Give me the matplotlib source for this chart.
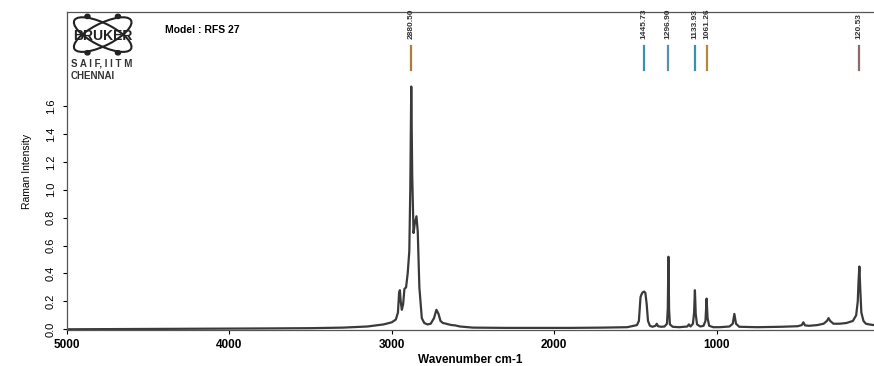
import numpy as np
import matplotlib.pyplot as plt
from matplotlib.patches import Ellipse, Circle

plt.rcParams['font.family'] = ['Liberation Sans', 'DejaVu Sans']

# spectrum points (wavenumber cm-1, intensity)
wavenumber = [5000, 4600, 4200, 3800, 3500, 3300, 3150, 3050, 3000, 2975,
              2962, 2955, 2950, 2945, 2938, 2930, 2922, 2912, 2902, 2892,
              2886, 2880, 2874, 2866, 2858, 2848, 2840, 2830, 2815, 2800,
              2780, 2760, 2740, 2725, 2712, 2700, 2685, 2665, 2650, 2630,
              2610, 2580, 2500, 2300, 2100, 1900, 1700, 1550, 1490, 1478,
              1468, 1462, 1455, 1445, 1438, 1430, 1422, 1410, 1395, 1375,
              1368, 1360, 1340, 1320, 1305, 1300, 1296, 1292, 1287, 1270,
              1230, 1180, 1170, 1160, 1145, 1138, 1133, 1128, 1120, 1100,
              1080, 1068, 1061, 1055, 1045, 1020, 980, 920, 900, 890,
              880, 860, 750, 600, 500, 475, 465, 455, 430, 380,
              340, 320, 310, 300, 280, 240, 200, 160, 140, 130,
              125, 120, 115, 108, 95, 80, 60, 30]
intensity = [0.000, 0.002, 0.004, 0.006, 0.008, 0.012, 0.020, 0.035, 0.050, 0.070,
             0.120, 0.260, 0.280, 0.200, 0.140, 0.180, 0.290, 0.300, 0.400, 0.560,
             1.000, 1.740, 1.100, 0.690, 0.760, 0.810, 0.700, 0.300, 0.080, 0.045,
             0.035, 0.040, 0.080, 0.140, 0.110, 0.060, 0.045, 0.040, 0.035, 0.030,
             0.028, 0.020, 0.012, 0.010, 0.010, 0.010, 0.012, 0.015, 0.030, 0.060,
             0.230, 0.250, 0.265, 0.270, 0.260, 0.180, 0.060, 0.025, 0.018, 0.025,
             0.040, 0.022, 0.018, 0.020, 0.040, 0.150, 0.520, 0.140, 0.035, 0.018,
             0.015, 0.020, 0.035, 0.020, 0.040, 0.120, 0.280, 0.110, 0.035, 0.020,
             0.025, 0.060, 0.220, 0.080, 0.025, 0.015, 0.015, 0.020, 0.040, 0.110,
             0.040, 0.018, 0.015, 0.018, 0.022, 0.030, 0.050, 0.028, 0.025, 0.030,
             0.040, 0.060, 0.080, 0.060, 0.040, 0.040, 0.045, 0.060, 0.100, 0.200,
             0.350, 0.450, 0.300, 0.120, 0.060, 0.040, 0.035, 0.030]

peak_labels = ['2880.50', '1445.73', '1296.90', '1133.93', '1061.26', '120.53']
peak_pos = [2880.50, 1445.73, 1296.90, 1133.93, 1061.26, 120.53]
marker_colors = ['#b07a3a', '#3c8fb0', '#5a8fa8', '#3c8fb0', '#b08a3a', '#8a6a6a']

fig = plt.figure(figsize=(8.74, 3.66), dpi=100)
ax = fig.add_axes([0.0767, 0.0984, 0.9233, 0.869])

ax.plot(wavenumber, intensity, color='#3a3a3a', lw=1.6)

# peak pick markers
for lab, p, c in zip(peak_labels, peak_pos, marker_colors):
    ax.plot([p, p], [1.86, 2.03], color=c, lw=1.6)
    ax.text(p, 2.08, lab, rotation=90, ha='center', va='bottom', fontsize=6,
            fontweight='bold', color='#333333')

ax.set_xlim(5000, 30)
ax.set_ylim(-0.005, 2.275)
ax.set_xticks([5000, 4000, 3000, 2000, 1000])
ax.set_xticklabels(['5000', '4000', '3000', '2000', '1000'], fontweight='bold', fontsize=8.5)
ax.set_yticks(np.arange(0, 1.61, 0.2))
ax.set_yticklabels(['%.1f' % v for v in np.arange(0, 1.61, 0.2)], rotation=90,
                   va='center', fontsize=8)
ax.tick_params(axis='both', direction='out', length=3, width=0.8)
ax.tick_params(axis='y', pad=5)
ax.set_xlabel('Wavenumber cm-1', fontweight='bold', fontsize=8.5, labelpad=2)
ax.set_ylabel('Raman Intensity', fontsize=7.5, labelpad=10)
ax.spines['right'].set_visible(False)
for s in ['left', 'top', 'bottom']:
    ax.spines[s].set_color('#555555')
    ax.spines[s].set_linewidth(0.9)

# Bruker logo block
lax = fig.add_axes([0.071, 0.847, 0.093, 0.117])
lax.set_xlim(-1.6, 1.6)
lax.set_ylim(-1.0, 1.0)
lax.axis('off')
lax.add_patch(Ellipse((0, 0), 2.6, 1.0, angle=32, fill=False, lw=1.5, color='#222222'))
lax.add_patch(Ellipse((0, 0), 2.6, 1.0, angle=-32, fill=False, lw=1.5, color='#222222'))
for px, py in [(-0.6, 0.85), (0.6, 0.85), (-0.6, -0.85), (0.6, -0.85)]:
    lax.add_patch(Circle((px, py), 0.1, color='#222222'))
lax.text(0, -0.05, 'BRUKER', ha='center', va='center', fontsize=10,
         fontweight='bold', color='#222222')

fig.text(0.189, 0.91, 'Model : RFS 27', fontsize=7.5, fontweight='bold')
fig.text(0.081, 0.818, 'S A I F, I I T M', fontsize=7, fontweight='bold', color='#333333')
fig.text(0.081, 0.785, 'CHENNAI', fontsize=7, fontweight='bold', color='#333333')

fig.savefig('out.png', dpi=100)
